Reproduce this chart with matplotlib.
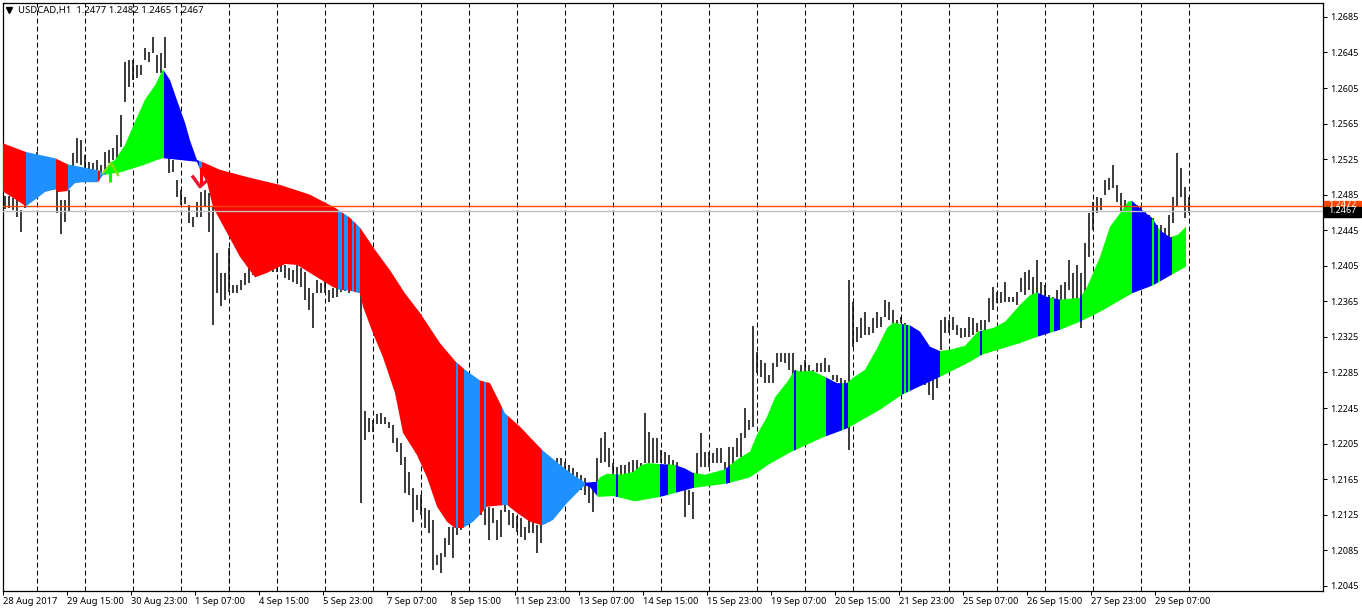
"""USDCAD H1 chart with a coloured band over the price bars."""

import numpy as np
import matplotlib

matplotlib.use("Agg")
import matplotlib.pyplot as plt
from matplotlib.patches import Rectangle

plt.rcParams["font.family"] = ["Noto Sans", "DejaVu Sans"]

# bar highs and lows, in 1/10000 of a price unit
HIGHS = [
    12483, 12483, 12481, 12479, 12468, 12490, 12507, 12518, 12533, 12524, 12522, 12518, 12513, 12490,
    12479, 12479, 12490, 12532, 12549, 12546, 12530, 12522, 12521, 12524, 12518, 12533, 12535, 12537,
    12552, 12575, 12634, 12636, 12636, 12631, 12631, 12650, 12646, 12662, 12642, 12644, 12662,
    12526, 12524, 12501, 12490, 12482, 12473, 12460, 12477, 12488, 12490, 12487, 12471, 12419, 12397,
    12397, 12425, 12383, 12383, 12389, 12397, 12406, 12409, 12412, 12417, 12412, 12409, 12409, 12409,
    12409, 12406, 12402, 12400, 12406, 12402, 12398, 12380, 12374, 12389, 12386, 12389, 12378, 12380,
    12381, 12383, 12389, 12389, 12391, 12406, 12378, 12242, 12234, 12231, 12238, 12239, 12235, 12229,
    12226, 12211, 12206, 12190, 12173, 12155, 12147, 12147, 12132, 12130, 12119, 12080, 12082, 12099,
    12111, 12111, 12125, 12125, 12130, 12136, 12136, 12142, 12142, 12136, 12134, 12132, 12119, 12130,
    12136, 12130, 12127, 12123, 12121, 12111, 12121, 12119, 12113, 12113, 12130, 12136, 12184, 12189,
    12189, 12184, 12181, 12177, 12173, 12170, 12166, 12161, 12153, 12189, 12211, 12218, 12200, 12183,
    12179, 12181, 12181, 12184, 12186, 12186, 12183, 12239, 12218, 12211, 12211, 12198, 12196, 12192,
    12186, 12184, 12175, 12153, 12153, 12151, 12194, 12217, 12195, 12195, 12194, 12200, 12200, 12184,
    12201, 12201, 12211, 12217, 12245, 12231, 12337, 12308, 12299, 12296, 12282, 12296, 12307, 12307,
    12307, 12307, 12307, 12286, 12293, 12299, 12293, 12288, 12296, 12296, 12301, 12293, 12282, 12282,
    12279, 12276, 12389, 12364, 12336, 12346, 12353, 12336, 12346, 12353, 12347, 12367, 12364, 12355,
    12344, 12347, 12341, 12333, 12327, 12316, 12310, 12288, 12288, 12276, 12279, 12344, 12347, 12344,
    12347, 12338, 12335, 12335, 12347, 12346, 12341, 12344, 12344, 12369, 12381, 12375, 12375, 12387,
    12370, 12370, 12375, 12391, 12398, 12400, 12392, 12411, 12387, 12383, 12372, 12370, 12378, 12383,
    12387, 12411, 12397, 12406, 12397, 12431, 12464, 12477, 12482, 12481, 12501, 12504, 12518, 12496,
    12487, 12479, 12477, 12473, 12473, 12471, 12465, 12462, 12459, 12451, 12451, 12448, 12462, 12482,
    12532, 12515, 12494, 12482,
]
LOWS = [
    12469, 12470, 12468, 12460, 12443, 12470, 12485, 12496, 12507, 12496, 12496, 12492, 12490, 12464,
    12441, 12454, 12465, 12513, 12521, 12518, 12513, 12510, 12510, 12513, 12510, 12513, 12521, 12524,
    12526, 12539, 12589, 12606, 12614, 12616, 12620, 12636, 12634, 12644, 12622, 12622, 12628,
    12509, 12510, 12482, 12473, 12475, 12453, 12449, 12460, 12460, 12471, 12443, 12338, 12374, 12360,
    12367, 12376, 12374, 12374, 12378, 12383, 12386, 12395, 12398, 12400, 12400, 12400, 12398, 12398,
    12398, 12391, 12389, 12387, 12384, 12381, 12367, 12355, 12335, 12374, 12374, 12374, 12364, 12369,
    12370, 12376, 12377, 12374, 12377, 12383, 12138, 12209, 12218, 12218, 12227, 12227, 12227, 12222,
    12206, 12196, 12181, 12149, 12147, 12117, 12130, 12125, 12110, 12104, 12063, 12068, 12059, 12077,
    12091, 12076, 12102, 12108, 12113, 12113, 12119, 12122, 12125, 12113, 12097, 12116, 12097, 12100,
    12128, 12113, 12110, 12106, 12100, 12097, 12104, 12104, 12082, 12093, 12114, 12117, 12153, 12153,
    12158, 12153, 12153, 12153, 12153, 12153, 12147, 12138, 12128, 12153, 12183, 12184, 12179, 12167,
    12164, 12166, 12170, 12172, 12172, 12172, 12175, 12183, 12183, 12183, 12183, 12183, 12182, 12181,
    12180, 12175, 12153, 12122, 12136, 12120, 12167, 12179, 12179, 12179, 12183, 12183, 12183, 12175,
    12179, 12175, 12190, 12190, 12211, 12220, 12224, 12284, 12280, 12273, 12273, 12273, 12291, 12297,
    12296, 12288, 12279, 12268, 12273, 12279, 12279, 12276, 12285, 12285, 12285, 12285, 12276, 12274,
    12271, 12265, 12198, 12314, 12319, 12324, 12327, 12327, 12329, 12335, 12336, 12347, 12344, 12336,
    12333, 12341, 12333, 12327, 12316, 12299, 12288, 12271, 12260, 12254, 12268, 12310, 12329, 12329,
    12333, 12327, 12324, 12325, 12325, 12327, 12331, 12333, 12333, 12342, 12355, 12363, 12363, 12364,
    12364, 12364, 12361, 12375, 12372, 12378, 12370, 12374, 12372, 12367, 12361, 12359, 12361, 12363,
    12367, 12378, 12367, 12367, 12335, 12369, 12415, 12445, 12464, 12468, 12485, 12490, 12492, 12477,
    12465, 12460, 12468, 12462, 12456, 12454, 12451, 12445, 12443, 12434, 12436, 12434, 12436, 12453,
    12471, 12482, 12459, 12464,
]

# band outline: (bar number, level) along the top and the bottom edge
TOP_X = [
    -0.625, 5.25, 12.5, 15.75, 23.75, 24.5, 26.25, 27.5, 30, 32.5, 35, 37.5, 39.5, 41.25, 43.25, 45, 46.25,
    48, 49.25, 53.75, 61.25, 68.75, 76.25, 83, 86.25, 88.75, 92.5, 96.25, 100, 103.75, 108.75, 112.5, 115,
    118.75, 121.25, 124.25, 125, 128.75, 134.25, 138, 142, 145, 148, 148.75, 150.5, 153.75, 157, 159.25,
    160.75, 163.75, 167.5, 170, 172, 175, 180, 183, 186.25, 188, 190.5, 192.5, 195.5, 197.5, 198.75, 201.75,
    205, 208, 210.5, 212, 215, 218, 220.5, 222, 226.25, 228.75, 231.25, 233.75, 236.75, 240, 243.25, 247,
    250, 253.75, 256.25, 258, 260.5, 263.75, 268.75, 270.5, 273.75, 276.25, 278.75, 280.75, 281.75, 285,
    286.75, 288.75, 291.25, 293.25, 295.25,
]
TOP_Y = [
    12543, 12533, 12526, 12519, 12512, 12509, 12521, 12524, 12541, 12567, 12592, 12608, 12626, 12614, 12588,
    12566, 12546, 12524, 12522, 12513, 12504, 12496, 12485, 12469, 12459, 12448, 12423, 12400, 12374, 12352,
    12318, 12298, 12288, 12276, 12273, 12246, 12239, 12224, 12198, 12184, 12170, 12161, 12162, 12167, 12171,
    12170, 12173, 12181, 12183, 12182, 12181, 12177, 12172, 12170, 12176, 12187, 12196, 12215, 12235, 12257,
    12274, 12288, 12286, 12287, 12280, 12273, 12273, 12279, 12288, 12312, 12335, 12341, 12338, 12331, 12314,
    12309, 12311, 12315, 12331, 12335, 12342, 12361, 12372, 12375, 12370, 12367, 12369, 12381, 12415, 12449,
    12464, 12477, 12478, 12465, 12459, 12445, 12437, 12440, 12449,
]
BOTTOM_X = [
    -0.625, 5.25, 8, 10, 12.5, 13.25, 15.5, 17.5, 19.5, 23.25, 24.5, 27, 28.75, 34.5, 38, 39.5, 43.75, 48,
    48.75, 50.5, 52, 55.5, 58.75, 62.5, 65.5, 70, 73, 76.25, 82, 83.75, 86.25, 88.75, 89.5, 92, 94.5, 97.5,
    99.5, 103, 105.5, 108, 110.5, 112.5, 114.5, 117, 118.75, 120.5, 125.5, 128, 131.25, 134.25, 137, 140.5,
    143.75, 145, 146.25, 148.25, 152, 157.5, 163.75, 168, 172, 180.5, 186.25, 190.75, 196.25, 204.5, 210.5,
    218.75, 224.25, 233.75, 241.25, 244.25, 253.75, 258, 263.75, 268.75, 274.5, 281.75, 287, 295.25,
]
BOTTOM_Y = [
    12489, 12472, 12481, 12488, 12491, 12488, 12489, 12498, 12499, 12499, 12507, 12509, 12510, 12518, 12524,
    12526, 12524, 12522, 12513, 12499, 12471, 12442, 12415, 12392, 12397, 12407, 12406, 12397, 12381, 12378,
    12377, 12374, 12359, 12329, 12302, 12262, 12217, 12192, 12167, 12134, 12117, 12110, 12110, 12117, 12125,
    12134, 12136, 12127, 12117, 12113, 12119, 12138, 12153, 12158, 12156, 12145, 12146, 12140, 12145, 12150,
    12155, 12160, 12167, 12181, 12195, 12212, 12222, 12243, 12260, 12280, 12297, 12305, 12318, 12325, 12333,
    12342, 12355, 12374, 12383, 12404,
]

# colour runs of the band: edges in bars, one code per run
RUN_EDGES = [
    -0.625, 5.25, 12.625, 15.75, 23.25, 23.75, 25.25, 39.75, 48.5, 49.25, 83.25, 84.25, 84.75, 85.75, 86.75,
    87.25, 87.75, 88.75, 112.75, 113.25, 114.75, 118.75, 119.75, 120.25, 124.25, 125.75, 134.25, 145, 148,
    152.75, 153.25, 163.75, 165.75, 167.75, 172.25, 180.25, 181.25, 197.25, 197.75, 205.25, 209.25, 209.75,
    210.75, 224.25, 224.75, 225.25, 225.75, 226.25, 233.75, 243.75, 244.25, 258.25, 261.25, 262.25, 263.75,
    268.75, 269.25, 281.75, 286.75, 287.25, 288.25, 288.75, 291.75, 295.25,
]
RUN_CODES = list("RDRDRD" + "GBD" + "RD" * 9 + "BG" * 18)

COLORS = {"R": "#FF0000", "D": "#1E90FF", "G": "#00FF00", "B": "#0000FF"}

PRICE_TICKS = [1.2685 - 0.004 * k for k in range(17)]
TIME_LABELS = [
    "28 Aug 2017", "29 Aug 15:00", "30 Aug 23:00", "1 Sep 07:00", "4 Sep 15:00", "5 Sep 23:00", "7 Sep 07:00",
    "8 Sep 15:00", "11 Sep 23:00", "13 Sep 07:00", "14 Sep 15:00", "15 Sep 23:00", "19 Sep 07:00",
    "20 Sep 15:00", "21 Sep 23:00", "25 Sep 07:00", "26 Sep 15:00", "27 Sep 23:00", "29 Sep 07:00",
]
GRID_BARS = list(range(8, 297, 12))
ASK = 1.2472
BID = 1.2467

fig = plt.figure(figsize=(13.62, 6.12), dpi=100)
ax = fig.add_axes([2.5 / 1362, 1 - 590.5 / 612, 1320 / 1362, 588 / 612])
ax.set_xlim(-0.625, 329.375)
ax.set_ylim(1.20397, 1.27012)

for bar in GRID_BARS:
    ax.axvline(bar, color="black", lw=0.72, ls=(0, (5, 3)), zorder=1)

bars = np.arange(len(HIGHS))
ax.vlines(bars, np.array(LOWS) / 1e4, np.array(HIGHS) / 1e4, color="black", lw=1.08, zorder=2)

# the band is one polygon, used as the clip shape of the colour runs
outline_x = TOP_X + BOTTOM_X[::-1]
outline_y = (np.array(TOP_Y + BOTTOM_Y[::-1])) / 1e4
band = ax.fill(outline_x, outline_y, color="none", zorder=3)[0]
for left, right, code in zip(RUN_EDGES[:-1], RUN_EDGES[1:], RUN_CODES):
    span = ax.axvspan(left, right, color=COLORS[code], lw=0, zorder=3)
    span.set_clip_path(band)

ax.axhline(BID, color="#C0C0C0", lw=1.0, zorder=4)
ax.axhline(ASK, color="#FF4500", lw=1.0, zorder=4)

# buy and sell arrows
ax.plot([25.9, 25.9], [1.2499, 1.2510], color="#FFD700", lw=0.8, zorder=5, solid_capstyle="butt")
ax.plot([26.3, 26.3], [1.2499, 1.2512], color="#00FF00", lw=2.2, zorder=5, solid_capstyle="butt")
ax.plot([24.5, 26.5, 28.25], [1.2509, 1.2521, 1.2507], color="#7FE000", lw=1.6, zorder=5)
ax.plot([48.9, 48.9], [1.2516, 1.2496], color="#FF0000", lw=2.2, zorder=5, solid_capstyle="butt")
ax.plot([47, 48.75, 50.5], [1.2505, 1.2494, 1.2501], color="#F01030", lw=2.4, zorder=5)

ax.xaxis.tick_bottom()
ax.set_xticks([-0.5 + 16 * k for k in range(len(TIME_LABELS))])
ax.set_xticklabels(TIME_LABELS, ha="left", fontsize=6.7)
ax.tick_params(axis="x", length=3, width=0.72, pad=1.8, color="black")

ax.yaxis.tick_right()
ax.set_yticks(PRICE_TICKS)
ax.set_yticklabels([f"{tick:.4f}" for tick in PRICE_TICKS], fontsize=6.5)
ax.tick_params(axis="y", length=3, width=0.72, pad=2.2, color="black")
for spine in ax.spines.values():
    spine.set_linewidth(0.9)

ytrans = ax.get_yaxis_transform()
ax.add_patch(Rectangle((1.001, ASK - 0.00005), 0.028, 0.00065, transform=ytrans, color="#FF4500", clip_on=False, zorder=6))
ax.text(1.0045, ASK + 0.0002, f"{ASK:.4f}", transform=ytrans, color="white", fontsize=6.5, va="center", clip_on=False, zorder=6)
ax.add_patch(Rectangle((1.001, BID - 0.00075), 0.028, 0.0012, transform=ytrans, color="black", clip_on=False, zorder=7))
ax.text(1.0045, BID, f"{BID:.4f}", transform=ytrans, color="white", fontsize=6.5, va="center", clip_on=False, zorder=8)

ax.plot([0.0048], [0.9865], marker="v", ms=4.5, color="black", transform=ax.transAxes, zorder=8)
ax.text(0.0117, 0.9865, "USDCAD,H1  1.2477 1.2482 1.2465 1.2467", transform=ax.transAxes,
        fontsize=6.85, va="center", ha="left", zorder=8)

fig.savefig("out.png", dpi=100)
plt.close(fig)
